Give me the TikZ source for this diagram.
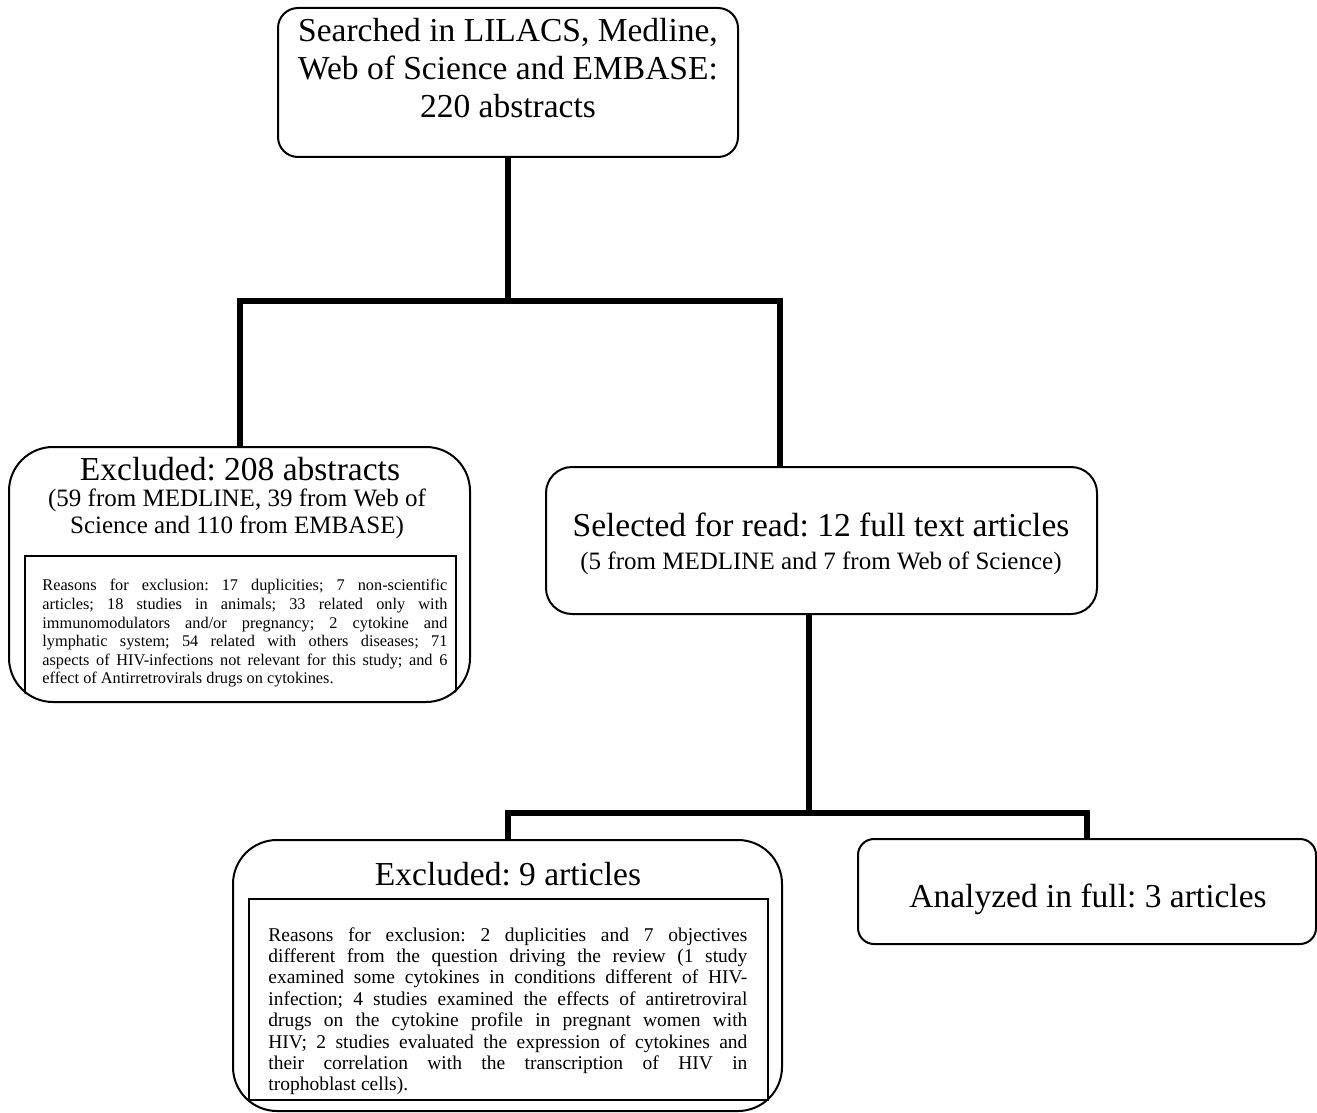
\documentclass[tikz,border=0pt]{standalone}
\usepackage{fontspec}
\setmainfont{Liberation Serif}
\usetikzlibrary{fit}
\newcommand{\flowbig}{\fontsize{16.75pt}{19pt}\selectfont}
\newcommand{\flowsub}{\fontsize{12.5pt}{13.5pt}\selectfont}
\newcommand{\flowsmall}{\fontsize{8.15pt}{9.3pt}\selectfont}
\newcommand{\flownote}{\fontsize{9.75pt}{10.7pt}\selectfont}
\tikzstyle{block} = [draw, line width=1pt, inner sep=0pt]
\tikzstyle{label} = [inner sep=0pt]
\tikzstyle{note} = [inner sep=0pt, anchor=north west, align=justify]
\tikzstyle{line} = [draw, line width=3pt]

\begin{document}
\frenchspacing
\begin{tikzpicture}[x=0.5pt, y=-0.5pt]
	\useasboundingbox (0,0) rectangle (1317,1113);
	% Place boxes
	\node [block, rounded corners=10pt, fit={(278,8) (738,157)}] (search) {};
	\node [block, rounded corners=22pt, fit={(9,447) (470,702)}] (excl1) {};
	\node [block, rounded corners=13pt, fit={(546,467) (1097,614)}] (sel) {};
	\node [block, rounded corners=22pt, fit={(233,840) (782,1111)}] (excl2) {};
	\node [block, rounded corners=8pt, fit={(858,839) (1316,944)}] (full) {};
	
	% Place texts
	\node [label, font=\flowbig, align=center, anchor=north] (searchtxt) at (508,18)
		{Searched in LILACS, Medline,\\Web of Science and EMBASE:\\220 abstracts};
	\node [label, font=\flowbig, anchor=base] (excl1txt) at (240,480) {Excluded: 208 abstracts};
	\node [label, font=\flowsub, align=center, anchor=north] (excl1src) at (237,488)
		{(59 from MEDLINE, 39 from Web of\\Science and 110 from EMBASE)};
	\node [label, font=\flowbig, anchor=base] (seltxt) at (821,536) {Selected for read: 12 full text articles};
	\node [label, font=\flowsub, anchor=base] (selsrc) at (821,569) {(5 from MEDLINE and 7 from Web of Science)};
	\node [label, font=\flowbig, anchor=base] (excl2txt) at (508,885) {Excluded: 9 articles};
	\node [label, font=\flowbig, anchor=base] (fulltxt) at (1088,907) {Analyzed in full: 3 articles};
	
	% Reasons, first exclusion
	\begin{scope}
		\clip [rounded corners=22pt] (excl1.north west) rectangle (excl1.south east);
		\draw [line width=1pt] (25,720) |- (456,556) -- (456,720);
	\end{scope}
	\node [note, font=\flowsmall, text width=202.5pt] (excl1why) at (42,579)
		{\hyphenpenalty=10000 \exhyphenpenalty=10000 \sloppy
		Reasons for exclusion: 17 duplicities; 7 non-scientific\linebreak
		articles; 18 studies in animals; 33 related only with\linebreak
		immunomodulators and/or pregnancy; 2 cytokine and\linebreak
		lymphatic system; 54 related with others diseases; 71\linebreak
		aspects of HIV-infections not relevant for this study; and 6\linebreak
		effect of Antirretrovirals drugs on cytokines.};
	
	% Reasons, second exclusion
	\draw [line width=1pt] (249,899) rectangle (768,1100);
	\node [note, font=\flownote, text width=239.5pt] (excl2why) at (268,927)
		{\hyphenpenalty=10000 \exhyphenpenalty=10000 \sloppy
		Reasons for exclusion: 2 duplicities and 7 objectives\linebreak
		different from the question driving the review (1 study\linebreak
		examined some cytokines in conditions different of HIV-\linebreak
		infection; 4 studies examined the effects of antiretroviral\linebreak
		drugs on the cytokine profile in pregnant women with\linebreak
		HIV; 2 studies evaluated the expression of cytokines and\linebreak
		their correlation with the transcription of HIV in\linebreak
		trophoblast cells).};
	
	% Connectors
	\coordinate (split1) at (510,301);
	\coordinate (split2) at (809,813);
	\path [line] (search.south) |- (split1);
	\path [line] (excl1.north) |- (split1) -| ([xshift=-20.75pt]sel.north);
	\path [line] ([xshift=-6.25pt]sel.south) -- (split2);
	\path [line] (excl2.north) |- (split2) -| (full.north);
\end{tikzpicture}
\end{document}
